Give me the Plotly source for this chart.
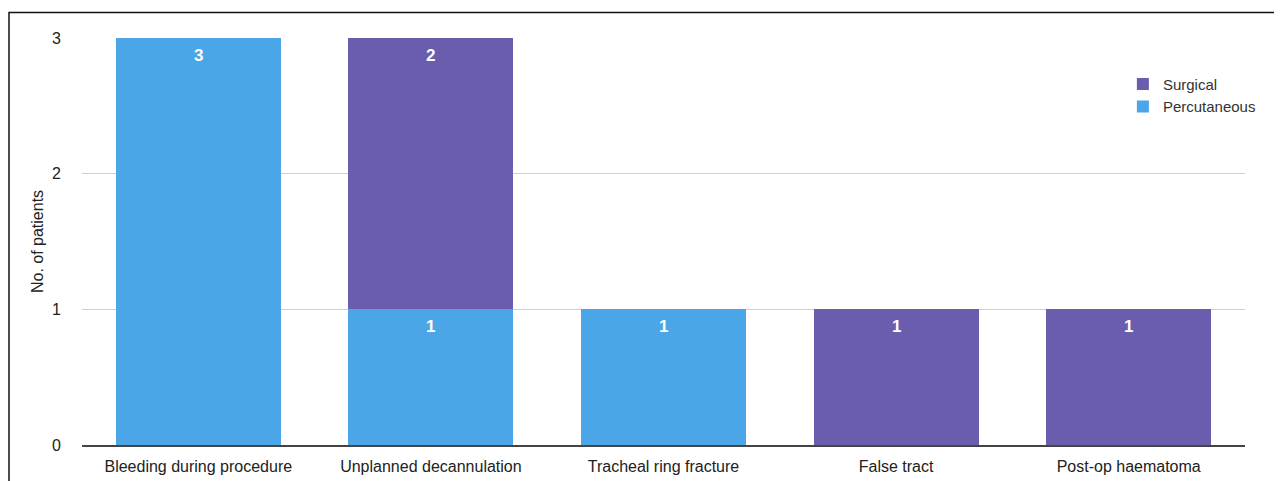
import plotly.graph_objects as go

categories = ["Bleeding during procedure", "Unplanned decannulation", "Tracheal ring fracture", "False tract", "Post-op haematoma"]
percutaneous = [3, 1, 1, None, None]
surgical = [None, 2, None, 1, 1]
y_ticks = [0, 1, 2, 3]

BLUE = "#4BA6E8"
PURPLE = "#6B5DAD"
FONT = "Liberation Sans, Arial, sans-serif"

fig = go.Figure()
for name, vals, col in [("Percutaneous", percutaneous, BLUE), ("Surgical", surgical, PURPLE)]:
    fig.add_trace(go.Bar(
        name=name, x=categories, y=vals, marker_color=col,
        marker_line_width=0,
    ))

# value labels near the top of each stacked segment
annotations = []
for i, cat in enumerate(categories):
    base = 0
    for vals in (percutaneous, surgical):
        v = vals[i]
        if v:
            top = base + v
            annotations.append(dict(
                x=cat, y=top, xref="x", yref="y", text="<b>%s</b>" % v,
                showarrow=False, yanchor="middle", yshift=-17,
                font=dict(color="white", size=17, family=FONT),
            ))
            base = top

# page body adds an 8px offset; the figure is sized to compensate
W, H = 1274, 473
L, R, T, B = 74, 37, 30, 36
pw, ph = W - L - R, H - T - B

fig.update_layout(
    barmode="stack",
    bargap=0.29,
    width=W, height=H,
    margin=dict(l=L, r=R, t=T, b=B, autoexpand=False),
    paper_bgcolor="white", plot_bgcolor="white",
    font=dict(family=FONT, size=16, color="#222"),
    showlegend=True,
    legend=dict(
        x=0.895, y=0.927, xanchor="left", yanchor="top",
        traceorder="reversed", bgcolor="rgba(0,0,0,0)",
        font=dict(size=15, color="#333"), itemwidth=30,
        tracegroupgap=0,
    ),
    xaxis=dict(
        showgrid=False, showline=True, linecolor="#444", linewidth=2,
        ticks="", tickfont=dict(size=16, color="#222"), ticklabelstandoff=6,
        automargin=False,
    ),
    yaxis=dict(
        range=[0, 3], tickvals=y_ticks, showgrid=True, gridcolor="#cfcfcf",
        gridwidth=1, zeroline=False, showline=False, ticks="",
        ticklabelstandoff=20, tickfont=dict(size=16, color="#222"),
        title=dict(text="No. of patients", font=dict(size=16, color="#222"), standoff=4),
        automargin=False,
    ),
    annotations=annotations,
    shapes=[dict(
        type="rect", xref="paper", yref="paper",
        x0=(1 - L) / pw, x1=(1273 - L) / pw,
        y0=-0.3, y1=(T + ph - 4.5) / ph,
        line=dict(color="#111", width=1.5), fillcolor="rgba(0,0,0,0)", layer="below",
    )],
)

fig.write_html("out.html")
